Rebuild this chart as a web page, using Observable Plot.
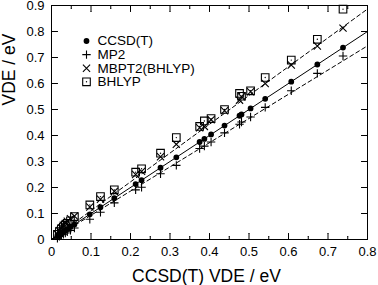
<!DOCTYPE html>
<html><head><meta charset="utf-8">
<script src="https://cdn.jsdelivr.net/npm/d3@7"></script>
<script src="https://cdn.jsdelivr.net/npm/@observablehq/plot@0.6"></script>
<style>
html,body{margin:0;padding:0;background:#fff;}
svg{font-family:"Liberation Sans",Arial,sans-serif;}
</style></head>
<body><div id="chart"></div>
<script>
// CCSD(T) reference VDEs (x) and method VDEs (y), eV
const ccsd  = [0.015,0.020,0.025,0.030,0.035,0.040,0.048,0.058,0.097,0.124,0.159,0.213,0.228,0.276,0.316,0.375,0.387,0.404,0.438,0.476,0.481,0.504,0.541,0.607,0.673,0.738];
const mp2   = [0.005,0.012,0.018,0.020,0.025,0.030,0.035,0.044,0.078,0.105,0.141,0.191,0.201,0.253,0.285,0.350,0.359,0.375,0.410,0.443,0.452,0.471,0.508,0.572,0.639,0.706];
const mbpt2 = [0.020,0.035,0.045,0.055,0.062,0.070,0.080,0.090,0.125,0.155,0.185,0.250,0.262,0.318,0.366,0.430,0.435,0.461,0.495,0.536,0.549,0.568,0.600,0.671,0.744,0.813];
const bhlyp = [0.020,0.030,0.040,0.048,0.055,0.062,0.072,0.088,0.133,0.165,0.191,0.259,0.272,0.332,0.392,0.435,0.456,0.465,0.500,0.562,0.551,0.572,0.623,0.690,0.770,0.886];
const seriesNames = ["CCSD(T)", "MP2", "MBPT2(BHLYP)", "BHLYP"];
const fitNames  = ["CCSD(T)", "MP2", "BHLYP"];
const fitSlopes = [1.0, 0.931, 1.108];
const xDomain = [0, 0.8];
const yDomain = [0, 0.9];
const xTicks = [0, 0.1, 0.2, 0.3, 0.4, 0.5, 0.6, 0.7, 0.8];
const xMinor = [0.05, 0.15, 0.25, 0.35, 0.45, 0.55, 0.65, 0.75];
const yTicks = [0, 0.1, 0.2, 0.3, 0.4, 0.5, 0.6, 0.7, 0.8, 0.9];
const xLabel = "CCSD(T) VDE / eV";
const yLabel = "VDE / eV";

const values = [ccsd, mp2, mbpt2, bhlyp];
const points = values.flatMap((ys, s) => ys.map((y, i) => ({x: ccsd[i], y, series: seriesNames[s]})));
const fitLines = fitSlopes.flatMap((k, f) => xDomain.map(x => ({x, y: k * x, fit: fitNames[f]})));

const R = s => Math.sqrt(s / Math.PI);
const symPlus  = {draw(c, s){const r = R(s); c.moveTo(-r,0); c.lineTo(r,0); c.moveTo(0,-r); c.lineTo(0,r);}};
const symTimes = {draw(c, s){const r = R(s); c.moveTo(-r,-r); c.lineTo(r,r); c.moveTo(-r,r); c.lineTo(r,-r);}};
const symSquare= {draw(c, s){const r = R(s); c.rect(-r,-r,2*r,2*r);}};
const symDot   = {draw(c, s){const r = R(s); c.moveTo(r,0); c.arc(0,0,r,0,2*Math.PI);}};

const styles = {
  "CCSD(T)":      {symbol: symDot,    r: 2.9, fill: "black", stroke: "none"},
  "MP2":          {symbol: symPlus,   r: 4.2, fill: "none", stroke: "black"},
  "MBPT2(BHLYP)": {symbol: symTimes,  r: 3.6, fill: "none", stroke: "black"},
  "BHLYP":        {symbol: symSquare, r: 3.8, fill: "none", stroke: "black"}
};

const tickShape = "arrow";
const tickV = (data, opts, len) => Plot.vector(data, {...opts, length: len, anchor: "start", shape: tickShape, r: 0, stroke: "black", strokeWidth: 1});

const marks = [
  Plot.frame({stroke: "black", strokeWidth: 1}),
  tickV(xTicks, {x: d => d, y: yDomain[0], rotate: 0}, 6),
  tickV(xTicks, {x: d => d, y: yDomain[1], rotate: 180}, 6),
  tickV(xMinor, {x: d => d, y: yDomain[0], rotate: 0}, 3),
  tickV(xMinor, {x: d => d, y: yDomain[1], rotate: 180}, 3),
  tickV(yTicks, {y: d => d, x: xDomain[0], rotate: 90}, 6),
  tickV(yTicks, {y: d => d, x: xDomain[1], rotate: -90}, 6),
  Plot.axisX(xTicks, {tickSize: 0, tickPadding: 7, fontSize: 13, tickFormat: d => d === 0 ? "0" : d.toFixed(1), label: null}),
  Plot.axisY(yTicks, {tickSize: 0, tickPadding: 7, fontSize: 13, dy: 0.8, tickFormat: d => d === 0 ? "0" : d.toFixed(1), label: null}),
  Plot.line(fitLines.filter(d => d.fit === fitNames[0]), {x: "x", y: "y", stroke: "black", strokeWidth: 1}),
  Plot.line(fitLines.filter(d => d.fit !== fitNames[0]), {x: "x", y: "y", z: "fit", stroke: "black", strokeWidth: 1, strokeDasharray: "4,3"}),
  ...seriesNames.map(name => Plot.dot(points.filter(d => d.series === name), {x: "x", y: "y", ...styles[name], strokeWidth: 1.1})),
  Plot.dot(points.filter(d => d.series === "BHLYP"), {x: "x", y: "y", r: 0.7, fill: "black", symbol: symDot}),
  Plot.text([xLabel], {frameAnchor: "bottom", dx: -3, dy: 42, lineAnchor: "bottom", fontSize: 17.5, fill: "black"}),
  Plot.text([yLabel], {frameAnchor: "left", dx: -42, dy: -17, rotate: -90, lineAnchor: "middle", fontSize: 17.5, fill: "black"}),
  ...seriesNames.map((name, i) => Plot.dot([name], {frameAnchor: "top-left", dx: 35, dy: 35.5 + i * 13.6, ...styles[name], strokeWidth: 1.1})),
  Plot.dot(["BHLYP"], {frameAnchor: "top-left", dx: 35, dy: 35.5 + 3 * 13.6, r: 0.7, fill: "black", symbol: symDot}),
  ...seriesNames.map((name, i) => Plot.text([name], {frameAnchor: "top-left", dx: 46, dy: 35.5 + i * 13.6, textAnchor: "start", lineAnchor: "middle", fontSize: 13.5, fill: "black"}))
];

const chart = Plot.plot({
  width: 378, height: 285,
  marginLeft: 51, marginRight: 11, marginTop: 5, marginBottom: 46,
  style: {fontFamily: "'Liberation Sans', Arial, sans-serif", background: "white", color: "black"},
  x: {domain: xDomain, axis: null},
  y: {domain: yDomain, axis: null},
  marks
});
document.getElementById("chart").appendChild(chart);
</script></body></html>
